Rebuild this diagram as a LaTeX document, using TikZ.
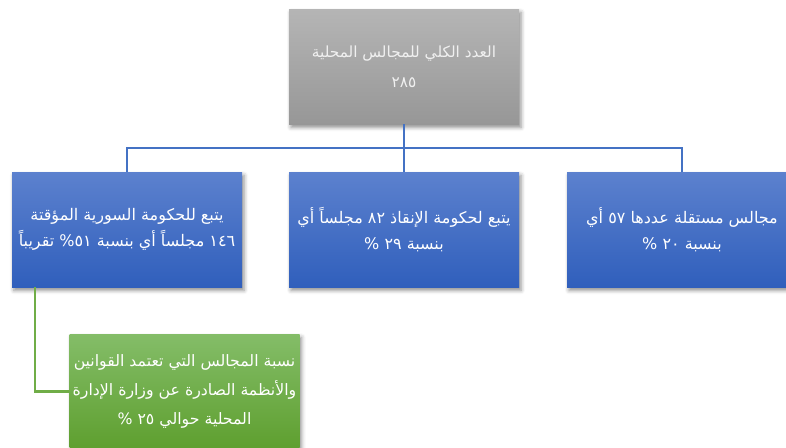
\documentclass[tikz,border=0pt]{standalone}
\usepackage{fontspec}
\newfontfamily\arabicfont[Script=Arabic]{DejaVu Sans}
\TeXXeTstate=1
\usetikzlibrary{positioning,calc,shadows.blur}

\newcommand{\arline}[1]{\beginR #1\endR}
\newcommand{\ltrnum}[1]{\beginL #1\endL{}}

\definecolor{graytop}{HTML}{B5B5B5}
\definecolor{graybot}{HTML}{979797}
\definecolor{bluetop}{HTML}{5C81CE}
\definecolor{bluebot}{HTML}{305FBC}
\definecolor{greentop}{HTML}{84BD68}
\definecolor{greenbot}{HTML}{5E9F2F}
\definecolor{bluelinec}{HTML}{4472C4}
\definecolor{greenlinec}{HTML}{70AD47}

\tikzset{
    orgbox/.style={rectangle, minimum width=172.5pt, minimum height=86.25pt,
        inner sep=2pt, align=center, text=white,
        font=\arabicfont\fontsize{12}{19.5}\selectfont,
        blur shadow={shadow xshift=1.5pt, shadow yshift=-2.5pt,
            shadow blur radius=3pt, shadow opacity=45}},
    graybox/.style={orgbox, top color=graytop, bottom color=graybot,
        text=white!94!black, font=\arabicfont\fontsize{11.5}{22.5}\selectfont},
    bluebox/.style={orgbox, top color=bluetop, bottom color=bluebot},
    greenbox/.style={orgbox, top color=greentop, bottom color=greenbot,
        font=\arabicfont\fontsize{11.8}{22}\selectfont},
    bluelink/.style={draw=bluelinec, line width=1.6pt},
    greenlink/.style={draw=greenlinec, line width=1.6pt}
}

\begin{document}
\begin{tikzpicture}[x=0.75pt,y=-0.75pt]

        \useasboundingbox (0,0) rectangle (786,447);
        \clip (0,0) rectangle (786,447);

        % --- Positions ---
        \coordinate (ctotal) at (404,66.5);
        \coordinate (cinterim) at (127,229.5);
        \coordinate (csalvation) at (404,229.5);
        \coordinate (cindep) at (682,229.5);
        \coordinate (clocal) at (184.5,391.5);

        % Total number of councils
        \node[graybox] (total) at (ctotal)
            {\arline{العدد الكلي للمجالس المحلية}\\\arline{\ltrnum{٢٨٥}}};

        % Interim government
        \node[bluebox] (interim) at (cinterim)
            {\arline{يتبع للحكومة السورية المؤقتة}\\
             \arline{\ltrnum{١٤٦} مجلساً أي بنسبة \ltrnum{٥١}\% تقريباً}};

        % Salvation government
        \node[bluebox] (salvation) at (csalvation)
            {\arline{يتبع لحكومة الإنقاذ \ltrnum{٨٢} مجلساً أي}\\
             \arline{بنسبة \ltrnum{٢٩} \%}};

        % Independent councils
        \node[bluebox] (indep) at (cindep)
            {\arline{مجالس مستقلة عددها \ltrnum{٥٧} أي}\\
             \arline{بنسبة \ltrnum{٢٠} \%}};

        % Councils applying the ministry's rules
        \node[greenbox] (local) at (clocal)
            {\arline{نسبة المجالس التي تعتمد القوانين}\\
             \arline{والأنظمة الصادرة عن وزارة الإدارة}\\
             \arline{المحلية حوالي \ltrnum{٢٥} \%}};

        % Connectors
        \coordinate (bus) at (404,148);
        \draw[bluelink] (total) -- (salvation);
        \draw[bluelink] (interim.north) |- (bus) -| (indep.north);

        \coordinate (tap) at ($(interim.south west)+(23,0)$);
        \draw[greenlink] (tap) |- (local.west);

    \end{tikzpicture}
\end{document}
